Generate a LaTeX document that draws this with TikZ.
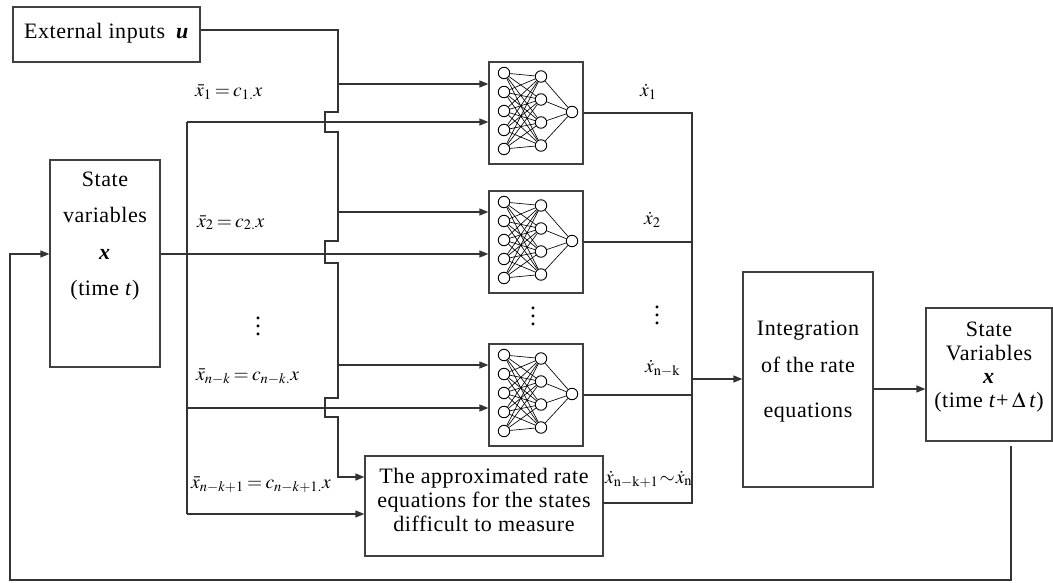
\documentclass[tikz,border=0pt]{standalone}
\usepackage{mathptmx}
\usepackage{fontspec}
\setmainfont{Liberation Serif}
\newfontfamily\bxfam[LetterSpace=2.5]{Liberation Serif}
\usetikzlibrary{arrows.meta}
\newcommand\bxfont{\bxfam\fontsize{22}{24}\selectfont}
\newcommand\lbfont{\fontsize{19.5}{22}\selectfont\thickmuskip=3mu}
% three stacked dots
\newcommand\vdotsb{\vbox{\baselineskip8pt\lineskiplimit0pt\hbox{.}\hbox{.}\hbox{.}}}
\tikzset{
  ln/.style={line width=1.3pt, draw=black!80},
  arr/.style={ln, -{Triangle[length=9pt,width=7pt]}},
  blk/.style={draw=black!75, line width=1.2pt, rectangle, inner sep=0pt},
  nnbox/.style={blk, minimum width=94pt, minimum height=102pt},
  neuron/.style={circle, draw=black, line width=0.9pt, minimum size=11.5pt, inner sep=0pt, fill=white},
  syn/.style={line width=0.65pt, draw=black},
  txt/.style={align=center, inner sep=0pt},
  lbl/.style={font=\lbfont, inner sep=0pt},
  dots/.style={font=\fontsize{24}{26}\selectfont, inner sep=0pt},
}
% small feed-forward network drawn inside a box: #1 prefix, #2 box name
\newcommand\drawnet[2]{%
  \begin{scope}[shift={(#2.center)}]
    \foreach \i/\y in {1/-38,2/-19,3/0,4/19,5/38}
      \node[neuron] (#1i\i) at (-32,\y-2) {};
    \foreach \j/\y in {1/-34.5,2/-11.5,3/11.5,4/34.5}
      \node[neuron] (#1h\j) at (5,\y-2) {};
    \node[neuron] (#1o) at (36,-1) {};
    \foreach \i in {1,...,5}
      \foreach \j in {1,...,4}
        \draw[syn] (#1i\i) -- (#1h\j);
    \foreach \j in {1,...,4}
      \draw[syn] (#1h\j) -- (#1o);
  \end{scope}}
\begin{document}
\begin{tikzpicture}[x=1pt,y=-1pt]
\useasboundingbox (0,0) rectangle (1053,583);

% blocks
\node[blk, minimum width=187pt, minimum height=55pt] (ext) at (106.5,34.5) {};
\node[txt, anchor=base, font=\bxfont] (exttxt) at (106.5,39) {External inputs\enspace\textbf{\textit{u}}};
\node[blk, minimum width=110pt, minimum height=207pt] (stL) at (105,263.5) {};
\node[txt, text depth=4.5pt, font={\bxfam\fontsize{22}{36.3}\selectfont}] (stLtxt) at (105,236)
  {State\\variables\\\textbf{\textit{x}}\\(time \textit{t})};
\node[nnbox] (nn1) at (536,113) {};
\node[nnbox] (nn2) at (536,242) {};
\node[nnbox] (nn3) at (536,395) {};
\drawnet{a}{nn1}
\drawnet{b}{nn2}
\drawnet{c}{nn3}
\node[blk, minimum width=238pt, minimum height=100pt] (apx) at (484,506) {};
\node[txt, font={\bxfam\fontsize{22}{24}\selectfont}] (apxtxt) at (484,499.5)
  {The approximated rate\\equations for the states\\difficult to measure};
\node[blk, minimum width=130pt, minimum height=215pt] (intg) at (808,379.5) {};
\node[txt, font={\bxfam\fontsize{22}{37}\selectfont}] (intgtxt) at (808,372)
  {Integration\\of the rate\\[8pt]equations};
\node[blk, minimum width=126pt, minimum height=133pt] (stR) at (989,374.5) {};
\node[txt, text depth=4.5pt, font={\bxfam\fontsize{22}{23.7}\selectfont}] (stRtxt) at (989,367)
  {State\\Variables\\\textbf{\textit{x}}\\(time \textit{t}+\,$\Delta$\,\textit{t})};

% labels
\node[lbl, anchor=base west] (l1) at (195,97) {$\bar{x}_1 = c_{1\mathbf{.}}x$};
\node[lbl, anchor=base west] (l2) at (197,227) {$\bar{x}_2 = c_{2\mathbf{.}}x$};
\node[dots] (ld) at (258,326) {\vdotsb};
\node[lbl, anchor=base west] (l3) at (196,380) {$\bar{x}_{n-k} = c_{n-k\mathbf{.}}x$};
\node[lbl, anchor=base west] (l4) at (191,488) {$\bar{x}_{n-k+1} = c_{n-k+1\mathbf{.}}x$};
\node[dots] (nd) at (533,316) {\vdotsb};
\node[lbl, anchor=base west] (o1) at (640,97) {$\dot{x}_1$};
\node[lbl, anchor=base west] (o2) at (644,225) {$\dot{x}_2$};
\node[dots] (od) at (657,315) {\vdotsb};
\node[lbl, anchor=base west] (o3) at (645,372) {$\dot{x}_{\mathrm{n-k}}$};
\node[lbl, anchor=base west] (o4) at (605,483) {$\dot{x}_{\mathrm{n-k+1}}\!\sim\!\dot{x}_{\mathrm{n}}$};

% external-input bus with jumps over the state lines
\coordinate (u0) at (338,30);
\coordinate (ub1) at (338,84);
\coordinate (ub2) at (338,212);
\coordinate (ub3) at (338,365);
\coordinate (ub4) at (338,477);
\draw[arr] (ext.east |- u0) -- (u0) -- (338,112) -- (325,112) -- (325,132) -- (338,132)
  -- (338,241) -- (325,241) -- (325,263) -- (338,263)
  -- (338,398) -- (325,398) -- (325,417) -- (338,417)
  -- (ub4) -- (ub4 -| apx.west);
\draw[arr] (ub1) -- (ub1 -| nn1.west);
\draw[arr] (ub2) -- (ub2 -| nn2.west);
\draw[arr] (ub3) -- (ub3 -| nn3.west);

% state bus
\coordinate (xb1) at (187,122);
\coordinate (xb2) at (187,254);
\coordinate (xb3) at (187,408);
\coordinate (xb4) at (187,514);
\draw[ln] (xb1) -- (xb4);
\draw[arr] (xb1) -- (xb1 -| nn1.west);
\draw[arr] (stL.east |- xb2) -- (xb2 -| nn2.west);
\draw[arr] (xb3) -- (xb3 -| nn3.west);
\draw[arr] (xb4) -- (xb4 -| apx.west);

% rate collector
\coordinate (cbx) at (692,0);
\coordinate (ao) at (603,503);
\coordinate (ci) at (692,379);
\draw[ln] (nn1.east) -- (nn1.east -| cbx) -- (cbx |- ao) -- (ao);
\draw[ln] (nn2.east) -- (nn2.east -| cbx);
\draw[ln] (nn3.east) -- (nn3.east -| cbx);
\draw[arr] (ci) -- (ci -| intg.west);

% integration and feedback
\coordinate (io) at (873,389);
\draw[arr] (io) -- (io -| stR.west);
\coordinate (fb0) at (1011,446);
\coordinate (fb1) at (1011,580);
\coordinate (fb2) at (10,580);
\coordinate (fb3) at (10,254);
\draw[arr] (fb0) -- (fb1) -- (fb2) -- (fb3) -- (fb3 -| stL.west);
\end{tikzpicture}
\end{document}
